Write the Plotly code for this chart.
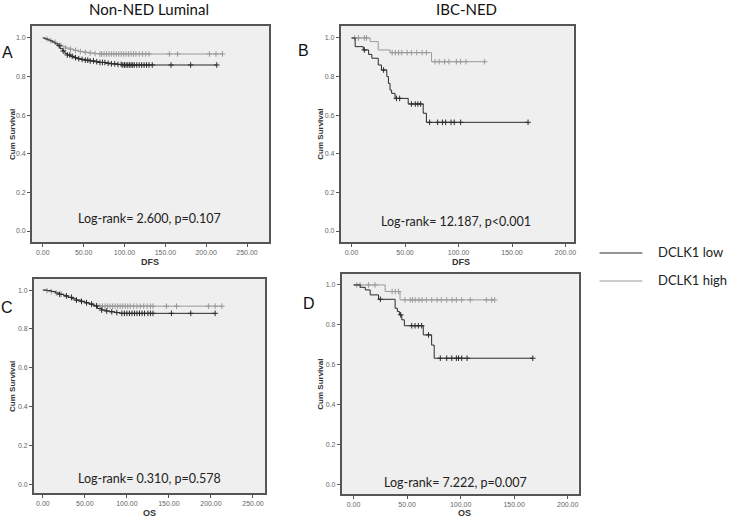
import numpy as np
import plotly.graph_objects as go

# ---------------- data ----------------
# Panel A: Non-NED Luminal, DFS
A_low_t = [0, 3, 6, 9, 12, 15, 18, 21, 24, 27, 30, 34, 38, 42, 47, 52, 58, 64, 70, 77, 84, 92, 97]
A_low_s = [1.0, 0.995, 0.99, 0.985, 0.978, 0.97, 0.96, 0.945, 0.932, 0.92, 0.912, 0.905, 0.898,
           0.893, 0.889, 0.885, 0.881, 0.877, 0.873, 0.869, 0.866, 0.863, 0.86]
A_low_end = 213
A_low_cens = [20, 25, 30, 33, 36, 40, 44, 48, 52, 55, 58, 62, 66, 70, 73, 76, 80, 84, 88, 92, 96, 98,
              100, 102, 104, 106, 108, 110, 112, 115, 118, 121, 124, 127, 130, 134, 157, 181, 213]
A_high_t = [0, 3, 6, 9, 12, 16, 20, 24, 28, 33, 38, 44, 50, 57, 64, 70]
A_high_s = [1.0, 0.995, 0.99, 0.985, 0.978, 0.97, 0.962, 0.955, 0.948, 0.942, 0.936, 0.93, 0.926,
            0.922, 0.919, 0.917]
A_high_end = 220
A_high_cens = [5, 10, 15, 22, 28, 34, 40, 46, 52, 58, 64, 70, 72, 75, 78, 81, 84, 87, 90, 93, 96, 99,
               102, 105, 108, 111, 114, 118, 122, 126, 130, 155, 165, 204, 212, 220]

# Panel B: IBC-NED, DFS
B_low_t = [0, 3.4, 11, 16, 19, 25, 28, 33, 34.5, 36, 37.5, 40.7, 53, 67, 70]
B_low_s = [1.0, 0.955, 0.938, 0.915, 0.895, 0.86, 0.834, 0.80, 0.765, 0.73, 0.713, 0.687, 0.658, 0.61, 0.563]
B_low_end = 165
B_low_cens = [12, 30, 42, 45, 56, 59.6, 62, 64.6, 73, 80.5, 85, 88, 93, 96, 102, 165]
B_high_t = [0, 17.4, 25, 36, 74.8]
B_high_s = [1.0, 0.981, 0.938, 0.924, 0.877]
B_high_end = 124.4
B_high_cens = [3, 6.5, 12, 14, 38, 41, 44, 47, 52, 56, 61, 66, 70, 78, 82, 87, 91, 98, 102, 107, 124.4]

# Panel C: Non-NED Luminal, OS
C_low_t = [0, 5, 10, 15, 20, 25, 30, 35, 40, 45, 50, 55, 60, 65, 70, 75, 80, 86, 92]
C_low_s = [1.0, 0.997, 0.993, 0.985, 0.978, 0.97, 0.962, 0.955, 0.948, 0.942, 0.935, 0.928, 0.918,
           0.905, 0.897, 0.892, 0.888, 0.884, 0.88]
C_low_end = 205
C_low_cens = [20, 28, 34, 40, 46, 52, 58, 64, 70, 76, 82, 88, 94, 97, 100, 103, 106, 109, 112, 115,
              118, 121, 125, 128, 131, 153, 176, 205]
C_high_t = [0, 5, 10, 15, 20, 25, 30, 35, 40, 45, 50, 56, 62, 68]
C_high_s = [1.0, 0.997, 0.992, 0.985, 0.978, 0.97, 0.963, 0.955, 0.948, 0.94, 0.933, 0.926, 0.92, 0.917]
C_high_end = 213
C_high_cens = [5, 10, 16, 22, 28, 34, 40, 46, 52, 58, 64, 68, 71, 74, 77, 80, 83, 86, 89, 92, 95, 98,
               101, 104, 108, 112, 116, 120, 124, 128, 131, 147, 159, 197, 205, 213]

# Panel D: IBC-NED, OS
D_low_t = [0, 6.2, 10.9, 15.5, 23.3, 38.8, 40.9, 42.8, 45, 47.4, 65.1, 72.9, 75.3]
D_low_s = [1.0, 0.988, 0.975, 0.95, 0.928, 0.883, 0.867, 0.85, 0.825, 0.795, 0.749, 0.698, 0.632]
D_low_end = 167.4
D_low_cens = [25, 44, 54.3, 57.4, 60.5, 63.6, 70, 81, 87, 91.7, 96, 98, 101, 106, 167.4]
D_high_t = [0, 29.5, 43.4]
D_high_s = [1.0, 0.967, 0.925]
D_high_end = 131.8
D_high_cens = [3, 6, 14, 20, 36, 39, 42, 48, 53, 55, 57.5, 61, 64, 68, 73, 78, 82, 87, 92, 96, 101,
               109, 124, 129, 131.8]

titles = ["Non-NED Luminal", "IBC-NED"]
panel_letters = ["A", "B", "C", "D"]
x_titles = ["DFS", "DFS", "OS", "OS"]
y_title = "Cum Survival"
logrank_texts = ["Log-rank= 2.600, p=0.107", "Log-rank= 12.187, p<0.001",
                 "Log-rank= 0.310, p=0.578", "Log-rank= 7.222, p=0.007"]
legend_labels = ["DCLK1 low", "DCLK1 high"]
x_ticks_wide = [0, 50, 100, 150, 200, 250]
x_ticks_narrow = [0, 50, 100, 150, 200]
y_ticks = [0.0, 0.2, 0.4, 0.6, 0.8, 1.0]

# ---------------- layout geometry ----------------
W, H = 732, 521
LOW_C = "#2a2a2a"
HIGH_C = "#9a9a9a"

def px(x):
    return x / W

def py(y):
    return 1 - y / H

panels = [
    dict(box=(32, 270, 26, 242), xr=[-13.4, 276.8], yr=[-0.057, 1.062], xt=x_ticks_wide),
    dict(box=(342, 576, 26, 242), xr=[-10.2, 207.6], yr=[-0.057, 1.062], xt=x_ticks_narrow),
    dict(box=(34, 266, 279, 493), xr=[-10.7, 264.2], yr=[-0.046, 1.057], xt=x_ticks_wide),
    dict(box=(343, 581, 274, 494), xr=[-11.2, 210.2], yr=[-0.050, 1.055], xt=x_ticks_narrow),
]

curves = [
    (A_low_t, A_low_s, A_low_end, A_low_cens, A_high_t, A_high_s, A_high_end, A_high_cens),
    (B_low_t, B_low_s, B_low_end, B_low_cens, B_high_t, B_high_s, B_high_end, B_high_cens),
    (C_low_t, C_low_s, C_low_end, C_low_cens, C_high_t, C_high_s, C_high_end, C_high_cens),
    (D_low_t, D_low_s, D_low_end, D_low_cens, D_high_t, D_high_s, D_high_end, D_high_cens),
]


def surv_at(times, surv, t):
    times = np.asarray(times, float)
    surv = np.asarray(surv, float)
    idx = np.searchsorted(times, np.asarray(t, float), side="right") - 1
    return surv[np.clip(idx, 0, len(surv) - 1)]


def ann(x, y, text, font, **kw):
    d = dict(x=px(x), y=py(y), xref="paper", yref="paper", text=text, showarrow=False,
             xanchor="center", yanchor="middle", font=font)
    d.update(kw)
    return d


fig = go.Figure()
layout = dict(
    width=W, height=H, margin=dict(l=0, r=0, t=0, b=0),
    paper_bgcolor="white", plot_bgcolor="#efefef", showlegend=False,
)
annotations = []
shapes = []
tickfont = dict(family="Arial, Liberation Sans", size=7, color="#666")

for i, (p, c) in enumerate(zip(panels, curves)):
    n = "" if i == 0 else str(i + 1)
    xa, ya = "x" + n, "y" + n
    l, r, t, b = p["box"]
    layout["xaxis" + n] = dict(
        domain=[px(l), px(r)], range=p["xr"], anchor=ya, tickvals=p["xt"], tickformat=".2f",
        ticks="outside", ticklen=3, tickcolor="#555", showgrid=False, zeroline=False,
        showline=True, linecolor="#555", linewidth=1.5, mirror=True, tickfont=tickfont,
    )
    layout["yaxis" + n] = dict(
        domain=[py(b), py(t)], range=p["yr"], anchor=xa, tickvals=y_ticks, tickformat=".1f",
        ticks="outside", ticklen=3, tickcolor="#555", showgrid=False, zeroline=False,
        showline=True, linecolor="#555", linewidth=1.5, mirror=True, tickfont=tickfont,
    )
    lt, ls, lend, lc, ht, hs, hend, hc = c
    for (tt, ss, end, cens, col, name) in [
        (ht, hs, hend, hc, HIGH_C, legend_labels[1]),
        (lt, ls, lend, lc, LOW_C, legend_labels[0]),
    ]:
        xs = list(tt) + [end]
        ys = list(ss) + [ss[-1]]
        fig.add_trace(go.Scatter(x=xs, y=ys, mode="lines", line=dict(color=col, width=1, shape="hv"),
                                 xaxis=xa, yaxis=ya, name=name, hoverinfo="skip"))
        fig.add_trace(go.Scatter(x=cens, y=surv_at(tt, ss, cens), mode="markers",
                                 marker=dict(symbol="cross-thin", size=4, line=dict(color=col, width=1)),
                                 xaxis=xa, yaxis=ya, name=name, hoverinfo="skip"))
    cx = (l + r) / 2
    xt_y = 262 if i < 2 else 513
    annotations.append(ann(cx + (0 if i % 2 == 0 else 4), xt_y, "<b>" + x_titles[i] + "</b>",
                           dict(family="Arial, Liberation Sans", size=9, color="#333")))
    yt_x = 12 if i % 2 == 0 else 321
    annotations.append(ann(yt_x, (t + b) / 2, "<b>" + y_title + "</b>",
                           dict(family="Arial, Liberation Sans", size=8, color="#333"), textangle=-90))
    lr_pos = [(150, 218), (458, 221), (150, 478), (457, 482)][i]
    annotations.append(ann(lr_pos[0], lr_pos[1], logrank_texts[i],
                           dict(family="Lato, Open Sans", size=12.5, color="#222")))
    lp = [(8, 52), (305, 50), (7, 307), (310, 303)][i]
    annotations.append(ann(lp[0], lp[1], panel_letters[i],
                           dict(family="Arial, Liberation Sans", size=16, color="#111")))

for txt, x in zip(titles, [150, 468]):
    annotations.append(ann(x, 9, txt, dict(family="Lato, Open Sans", size=15, color="#111")))

for lab, col, yy in [(legend_labels[0], LOW_C, 253), (legend_labels[1], HIGH_C, 281)]:
    shapes.append(dict(type="line", xref="paper", yref="paper", x0=px(602), x1=px(645),
                       y0=py(yy), y1=py(yy), line=dict(color=col, width=1.2)))
    annotations.append(ann(659, yy - 1, lab, dict(family="Lato, Open Sans", size=13, color="#222"),
                           xanchor="left"))

layout["annotations"] = annotations
layout["shapes"] = shapes
fig.update_layout(**layout)
fig.write_html("out.html", config={"displayModeBar": False},
               post_script="document.body.style.margin='0';document.body.style.overflow='hidden';")
